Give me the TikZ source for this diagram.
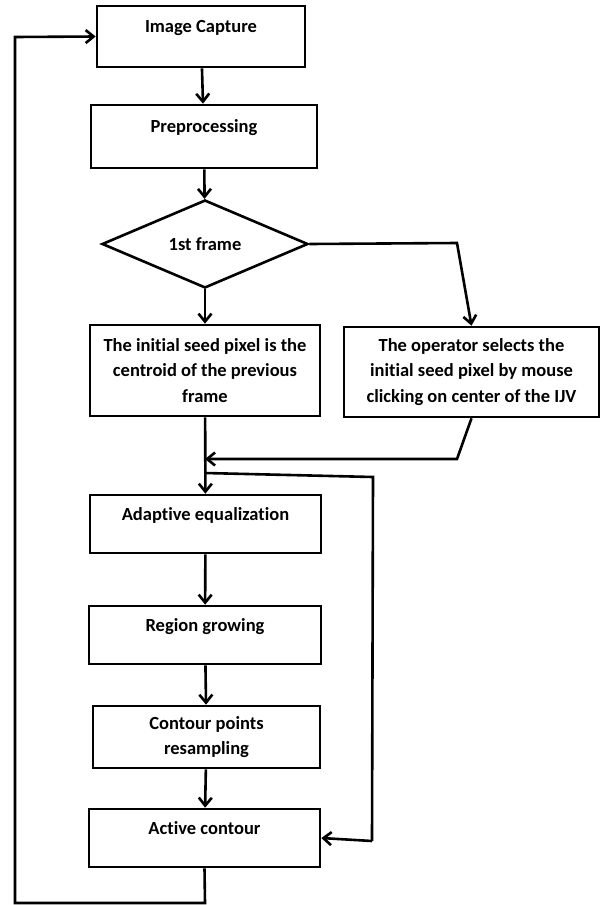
\documentclass[tikz,border=0pt]{standalone}
\usepackage{fontspec}
\setmainfont[Ligatures=NoCommon]{Carlito}
\usetikzlibrary{arrows.meta, shapes.geometric}

\begin{document}
\begin{tikzpicture}[
	x=1pt, y=-1pt,
	font=\bfseries\fontsize{18.5}{25.5}\selectfont,
	box/.style={draw, line width=2.6pt, inner sep=0pt, align=center},
	dia/.style={draw, diamond, line width=2.6pt, inner sep=0pt, aspect=2.34, minimum width=206pt, minimum height=88pt},
	arr/.style={-{Straight Barb[length=8pt,width=13pt]}, line width=2.6pt}
	]
	
	\useasboundingbox (0,0) rectangle (608,905);
	
	\node[box, minimum width=208pt, minimum height=61pt] (cap) at (201,36.5) {Image Capture\\[-5pt]~};
	\node[box, minimum width=226pt, minimum height=63pt] (pre) at (204,136.5) {Preprocessing\\[-5pt]~};
	\node[dia] (first) at (205,244) {1st frame};
	
	\node[box, minimum width=230pt, minimum height=91pt] (seed) at (205,370.5) {The initial seed pixel is the\\centroid of the previous\\frame};
	\node[box, minimum width=255pt, minimum height=90pt] (oper) at (471.5,372) {The operator selects the\\initial seed pixel by mouse\\clicking on center of the IJV};
	
	\node[box, minimum width=231pt, minimum height=58pt] (adapt) at (205.5,524) {Adaptive equalization\\[-5pt]~};
	\node[box, minimum width=232pt, minimum height=58pt] (grow) at (205,635) {Region growing\\[-5pt]~};
	\node[box, minimum width=227pt, minimum height=62pt] (resamp) at (206.5,737) {Contour points\\resampling};
	\node[box, minimum width=231pt, minimum height=58pt] (active) at (204.5,838) {Active contour\\[-5pt]~};
	
	\coordinate (bendA) at (457,243);
	\coordinate (bendB) at (457,459);
	\coordinate (join) at (205,459);
	\coordinate (split) at (205,473);
	\coordinate (bendC) at (373,477);
	\coordinate (bendD) at (372,841);
	\coordinate (loopA) at (205,903);
	\coordinate (loopB) at (15,903);
	\coordinate (loopC) at (15,37);
	
	\draw[arr] (cap) -- (pre);
	\draw[arr] (pre) -- (first);
	\draw[arr] (first.south) -- (seed);
	\draw[arr] (first.east) -- (bendA) -- (oper.north);
	\draw[arr] (oper.south) -- (bendB) -- (join);
	\draw[arr] (seed) -- (adapt);
	\draw[line width=2.6pt] (split) -- (bendC) -- (bendD);
	\draw[arr] (bendD) -- (active.east);
	\draw[arr] (adapt) -- (grow);
	\draw[arr] (grow) -- (resamp);
	\draw[arr] (resamp) -- (active);
	\draw[arr] (active.south) -- (loopA) -- (loopB) -- (loopC) -- (cap.west);
	
\end{tikzpicture}
\end{document}
